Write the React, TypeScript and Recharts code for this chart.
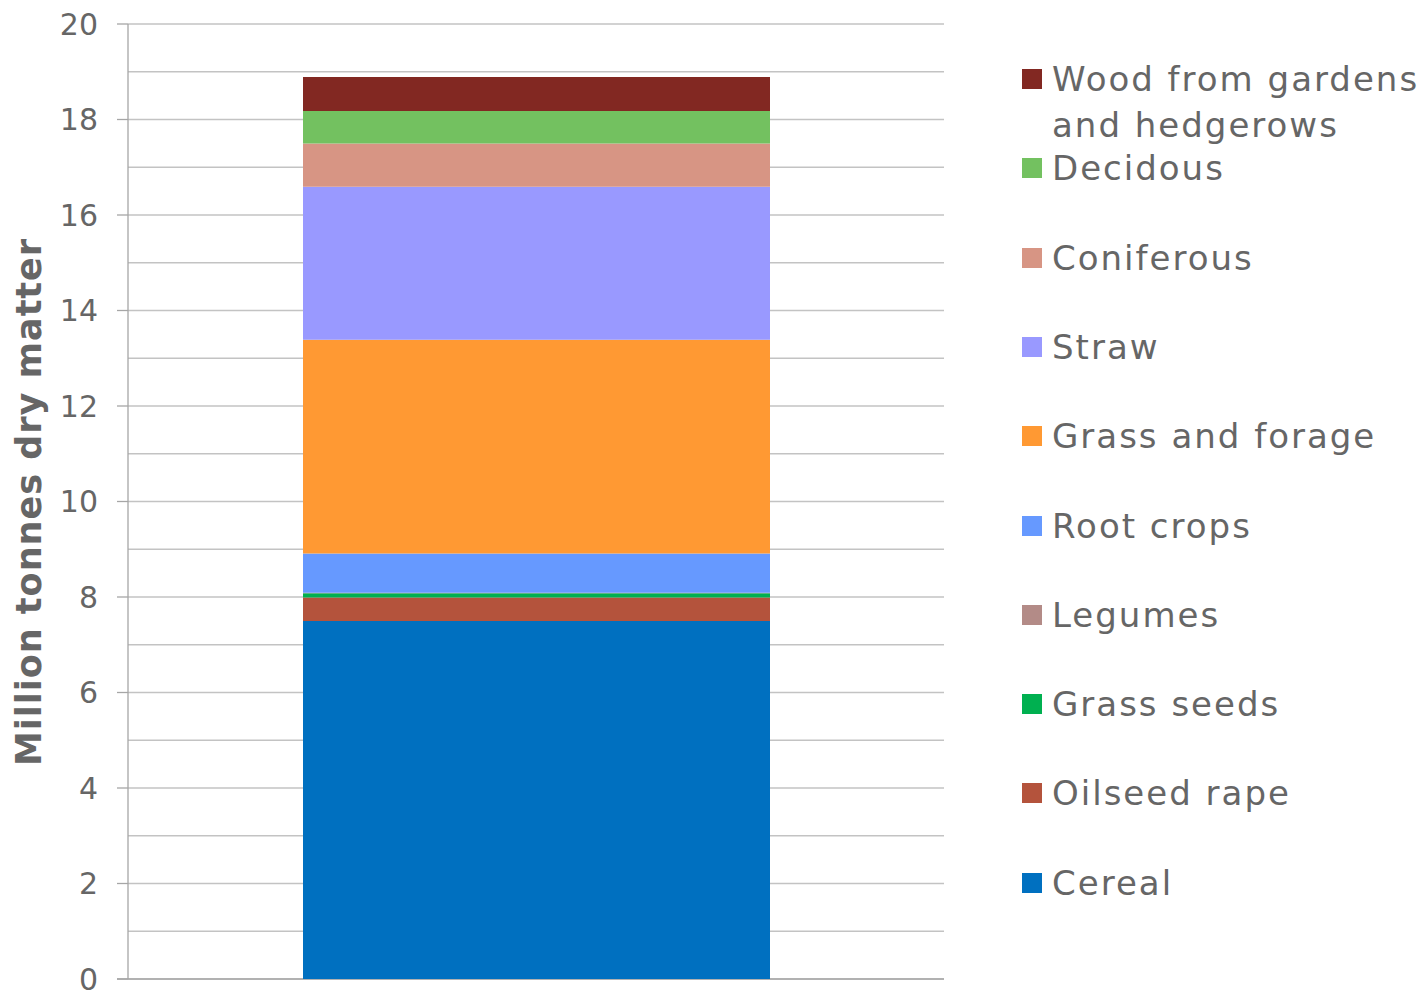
import { Bar, BarChart, CartesianGrid, Label, XAxis, YAxis } from "recharts";

// stacking order, bottom to top
const seriesNames = [
  "Cereal",
  "Oilseed rape",
  "Grass seeds",
  "Legumes",
  "Root crops",
  "Grass and forage",
  "Straw",
  "Coniferous",
  "Decidous",
  "Wood from gardens and hedgerows",
];
const seriesValues = [7.5, 0.49, 0.09, 0.01, 0.82, 4.48, 3.2, 0.91, 0.68, 0.71];
const seriesColors = [
  "#0070c0",
  "#b4533c",
  "#00b050",
  "#b38b87",
  "#6699ff",
  "#ff9933",
  "#9999ff",
  "#d79584",
  "#73c160",
  "#822822",
];
const categories = ["Total"];
const yTicks = [0, 1, 2, 3, 4, 5, 6, 7, 8, 9, 10, 11, 12, 13, 14, 15, 16, 17, 18, 19, 20];

const chartData = categories.map((name) => {
  const row: Record<string, string | number> = { name };
  seriesNames.forEach((s, i) => {
    row[s] = seriesValues[i];
  });
  return row;
});

const FONT = "'DejaVu Sans', Verdana, sans-serif";
const TEXT = "#666666";

function YTick(props: any) {
  const { x, y, payload } = props;
  if (payload.value % 2 !== 0) return <g />;
  return (
    <g>
      <line x1={x} x2={x + 11} y1={y} y2={y} stroke="#a6a6a6" strokeWidth={1.3} />
      <text x={x - 19} y={y} dy="0.36em" textAnchor="end" fill={TEXT} fontSize={30} fontFamily={FONT}>
        {payload.value}
      </text>
    </g>
  );
}

export default function App() {
  const legendItems = seriesNames.map((n, i) => ({ name: n, color: seriesColors[i] })).reverse();

  return (
    <div style={{ position: "absolute", left: 0, top: 0, width: 1427, height: 991, background: "#fff" }}>
      <BarChart
        width={1427}
        height={991}
        data={chartData}
        margin={{ top: 24, right: 483, bottom: 12, left: 0 }}
        barCategoryGap={0}
      >
        <CartesianGrid horizontal vertical={false} stroke="#c3c3c3" strokeWidth={1.3} />
        <XAxis dataKey="name" hide />
        <YAxis
          width={128}
          domain={[0, 20]}
          ticks={yTicks}
          interval={0}
          tickSize={11}
          tickMargin={0}
          tickLine={false}
          tick={<YTick />}
          axisLine={{ stroke: "#a6a6a6", strokeWidth: 1.3 }}
        >
          <Label
            content={() => (
              <text
                transform="translate(41,502) rotate(-90)"
                textAnchor="middle"
                fill={TEXT}
                fontSize={35}
                fontWeight="bold"
                letterSpacing={1}
                fontFamily={FONT}
              >
                Million tonnes dry matter
              </text>
            )}
          />
        </YAxis>
        {seriesNames.map((s, i) => (
          <Bar key={s} dataKey={s} stackId="a" fill={seriesColors[i]} barSize={467} isAnimationActive={false} />
        ))}
        <line x1={117} x2={944} y1={979} y2={979} stroke="#a6a6a6" strokeWidth={1.3} />
      </BarChart>
      <div style={{ position: "absolute", left: 1022, top: 0, fontFamily: FONT, color: TEXT }}>
        {legendItems.map((item, i) => (
          <div
            key={item.name}
            style={{
              position: "absolute",
              top: 79 + i * 89.3 - 23,
              left: 0,
              width: 405,
              display: "flex",
              alignItems: "flex-start",
            }}
          >
            <span
              style={{
                display: "inline-block",
                width: 20,
                height: 20,
                marginTop: 13,
                background: item.color,
                flexShrink: 0,
              }}
            />
            <span style={{ marginLeft: 10, fontSize: 34, letterSpacing: 2, lineHeight: "46px", width: 375 }}>
              {item.name}
            </span>
          </div>
        ))}
      </div>
    </div>
  );
}
